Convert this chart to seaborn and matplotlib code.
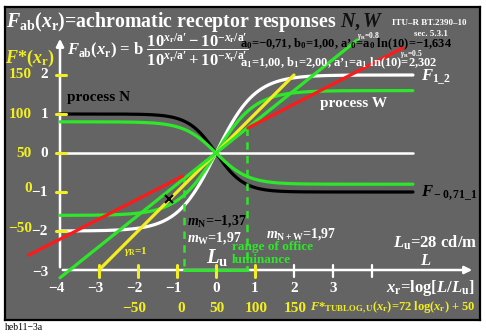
import numpy as np
import pandas as pd
import matplotlib
matplotlib.use("Agg")
import matplotlib.pyplot as plt
import seaborn as sns

# ---------------- data ----------------
a0, b0 = -0.71, 1.00          # process N
a1, b1 = 1.00, 2.00           # process W
aN_g, bN_g = -0.82, 0.80      # green (reduced) N curve
aW_g, bW_g = 1.00, 1.60       # green (reduced) W curve
curve_x_range = [-4.0, 5.05]

gamma_yellow = 1.0
yellow_x = [-3.0, 2.0]
gamma_green = 0.8
green_x = [-4.0, 3.62]
red_low_x = [-4.80, -0.85]
red_low_y = [-2.62, -0.59]
red_up_x = [0.82, 4.80]
red_up_y = [0.64, 2.70]
office_x = [-0.82, 0.80]
office_top = [-0.59, 0.64]
marker_x = [-1.2]
marker_y = [-1.18]

x_ticks = [-4, -3, -2, -1, 0, 1, 2, 3, 4]
x_tick_labels = ["−4", "−3", "−2", "−1", "0", "1", "2", "3", ""]
yellow_xticks = [-3, -2, -1, 0, 1]
white_xticks = [2, 3, 4]
y_ticks = [2, 1, 0, -1, -2, -3]
y_tick_labels = ["2", "1", "0", "−1", "−2", "−3"]
yellow_yticks = [2, 1, 0, -1, -2]
yellow_y_labels = ["150", "100", "50", "0", "−50"]
yellow_x_labels = ["−50", "0", "50", "100", "150"]

# ---------------- style ----------------
sns.set_style("white", {"axes.facecolor": "#646464"})
plt.rcParams["font.family"] = ["Liberation Serif", "DejaVu Serif"]
plt.rcParams["font.weight"] = "bold"
plt.rcParams["mathtext.fontset"] = "custom"
plt.rcParams["mathtext.rm"] = "Liberation Serif:bold"
plt.rcParams["mathtext.bf"] = "Liberation Serif:bold"
plt.rcParams["mathtext.it"] = "Liberation Serif:italic:bold"
plt.rcParams["mathtext.default"] = "it"

GREEN = "#2ee62a"
YELLOW = "#f2ee22"
RED = "#ff1a1a"
WHITE = "#ffffff"
BLACK = "#000000"

fig = plt.figure(figsize=(4.86, 3.36), dpi=100)
fig.patch.set_facecolor("white")
ax = fig.add_axes([5 / 486, 16 / 336, 475 / 486, 313 / 336])

def X(px):
    return (px - 216) / 39.0

def Y(py):
    return (153 - py) / 39.0

ax.set_xlim(X(5), X(480))
ax.set_ylim(Y(320), Y(7))
ax.set_xticks([]); ax.set_yticks([])
for s in ax.spines.values():
    s.set_color(BLACK); s.set_linewidth(1.6)

def fab(x, a, b):
    ap = a * np.log(10)
    p = 10 ** (x / ap); m = 10 ** (-x / ap)
    return b * (p - m) / (p + m)

xs = np.linspace(curve_x_range[0], curve_x_range[1], 400)
LW = 2.3

# axes lines
ax.plot([X(60), X(413)], [0, 0], color=WHITE, lw=1.8, zorder=2)
ax.annotate("", xy=(X(60), Y(36)), xytext=(X(60), -3.0),
            arrowprops=dict(arrowstyle="-|>", color=WHITE, lw=1.8, mutation_scale=11), zorder=3)
ax.annotate("", xy=(X(475), -3.0), xytext=(-4.0, -3.0),
            arrowprops=dict(arrowstyle="-|>", color=WHITE, lw=1.8, mutation_scale=11), zorder=3)

# curves
df = pd.DataFrame({"x": xs,
                   "N": fab(xs, a0, b0), "W": fab(xs, a1, b1),
                   "Ng": fab(xs, aN_g, bN_g), "Wg": fab(xs, aW_g, bW_g)})
sns.lineplot(data=df, x="x", y="W", color=WHITE, lw=LW, ax=ax, zorder=4)
sns.lineplot(data=df, x="x", y="N", color=BLACK, lw=LW, ax=ax, zorder=4)
sns.lineplot(data=df, x="x", y="Ng", color=GREEN, lw=LW, ax=ax, zorder=5)
sns.lineplot(data=df, x="x", y="Wg", color=GREEN, lw=LW, ax=ax, zorder=5)

# straight lines
yx = np.array(yellow_x)
sns.lineplot(x=yx, y=gamma_yellow * yx, color=YELLOW, lw=LW, ax=ax, zorder=6)
gx = np.array(green_x)
sns.lineplot(x=gx, y=gamma_green * gx, color=GREEN, lw=LW, ax=ax, zorder=6)
sns.lineplot(x=red_low_x, y=red_low_y, color=RED, lw=LW, ax=ax, zorder=6)
sns.lineplot(x=red_up_x, y=red_up_y, color=RED, lw=LW, ax=ax, zorder=6)

# office luminance range
for xo, yt in zip(office_x, office_top):
    ax.plot([xo, xo], [yt, -3.0], color=GREEN, lw=1.8, ls=(0, (3, 2.5)), zorder=5)
ax.plot(office_x, [-3.0, -3.0], color=GREEN, lw=2.2, zorder=7)
ax.plot(marker_x, marker_y, marker="x", color=BLACK, ms=6, mew=1.5, zorder=7)

# ticks
for t in yellow_yticks:
    ax.plot([X(56), X(66)], [t, t], color=YELLOW, lw=2.2, zorder=7)
for t in yellow_xticks:
    ax.plot([t, t], [Y(265), Y(277)], color=YELLOW, lw=2.2, zorder=7)
for t in white_xticks:
    ax.plot([t, t], [Y(265), Y(277)], color=WHITE, lw=1.6, zorder=7)

FS = 11
for t, lab in zip(y_ticks, y_tick_labels):
    yy = t if t > -3 else Y(272)
    ax.text(X(48), yy, lab, color=WHITE, fontsize=FS, ha="right", va="center")
for t, lab in zip(yellow_yticks, yellow_y_labels):
    yy = {-1: Y(188), -2: Y(228)}.get(t, t)
    ax.text(X(32), yy, lab, color=YELLOW, fontsize=FS, ha="right", va="center")
for t, lab in zip(x_ticks, x_tick_labels):
    if lab.startswith("−"):
        ax.text(t + 4.5 / 39, Y(288), lab, color=WHITE, fontsize=FS, ha="right", va="center")
    else:
        ax.text(t, Y(288), lab, color=WHITE, fontsize=FS, ha="center", va="center")
for px, lab in zip([134, 181, 217, 256, 295], yellow_x_labels):
    ax.text(X(px), Y(308), lab, color=YELLOW, fontsize=FS, ha="center", va="center")

# texts
ax.text(X(6), Y(27), r"$F_{\rm ab}(x_{\rm r})$=achromatic receptor responses",
        color=WHITE, fontsize=14.3, ha="left", va="baseline")
ax.text(X(340), Y(27), r"$N, W$", color="#111111", fontsize=14.3, ha="left", va="baseline")
ax.text(X(392), Y(25), "ITU–R BT.2390–10", color=WHITE, fontsize=6.5, ha="left", va="baseline")
ax.text(X(414), Y(36), "sec. 5.3.1", color=WHITE, fontsize=6.5, ha="left", va="baseline")

ax.text(X(67), Y(55),
        r"$F_{\rm ab}(x_{\rm r})$ = b $\dfrac{10^{x_{\rm r}/\mathrm{a}\prime} - 10^{-x_{\rm r}/\mathrm{a}\prime}}{10^{x_{\rm r}/\mathrm{a}\prime} + 10^{-x_{\rm r}/\mathrm{a}\prime}}$",
        color=WHITE, fontsize=12, ha="left", va="baseline", zorder=8)
ax.text(X(240), Y(47), r"a$_0$=−0,71, b$_0$=1,00, a’$_0$=a$_0$ ln(10)=−1,634",
        color=BLACK, fontsize=9, ha="left", va="baseline", zorder=9)
ax.text(X(240), Y(66), r"a$_1$=1,00, b$_1$=2,00, a’$_1$=a$_1$ ln(10)=2,302",
        color=WHITE, fontsize=9, ha="left", va="baseline", zorder=9)
ax.text(X(357), Y(38), r"$\gamma_{\rm R}$=0.8", color=WHITE, fontsize=5.5, ha="left", va="baseline", zorder=9)
ax.text(X(400), Y(56), r"$\gamma_{\rm R}$=0.5", color=WHITE, fontsize=5.5, ha="left", va="baseline", zorder=9)

ax.text(X(5), Y(58), r"$F$*($x_{\rm r}$)", color=YELLOW, fontsize=13, ha="left", va="center", zorder=9)

ax.text(X(67), Y(97), "process N", color=BLACK, fontsize=11, ha="left", va="center", zorder=9)
ax.text(X(320), Y(103), "process W", color=WHITE, fontsize=11, ha="left", va="center", zorder=9)
ax.text(X(421), Y(77), r"$F_{\rm 1\_2}$", color=WHITE, fontsize=12, ha="left", va="center", zorder=9)
ax.text(X(421), Y(193), r"$F_{\rm -0,71\_1}$", color=BLACK, fontsize=12, ha="left", va="center", zorder=9)

ax.text(X(187), Y(221), r"$m_{\rm N}$=−1,37", color=BLACK, fontsize=10, ha="left", va="center", zorder=9)
ax.text(X(187), Y(238), r"$m_{\rm W}$=1,97", color=WHITE, fontsize=10, ha="left", va="center", zorder=9)
ax.text(X(266), Y(234), r"$m_{\rm N+W}$=1,97", color=WHITE, fontsize=10, ha="left", va="center", zorder=9)
ax.text(X(232), Y(247), "range of office", color=GREEN, fontsize=9.5, ha="left", va="center", zorder=9)
ax.text(X(232), Y(260), "luminance", color=GREEN, fontsize=9.5, ha="left", va="center", zorder=9)
ax.text(X(217), Y(257), r"$L_{\rm u}$", color=WHITE, fontsize=15, ha="center", va="center", zorder=9)
ax.text(X(136), Y(252), r"$\gamma_{\rm R}$=1", color=YELLOW, fontsize=8, ha="center", va="center", zorder=9)

ax.text(X(477), Y(243), r"$L_{\rm u}$=28 cd/m", color=WHITE, fontsize=12, ha="right", va="center", zorder=9)
ax.text(X(426), Y(261), r"$L$", color=WHITE, fontsize=12, ha="center", va="center", zorder=9)
ax.text(X(474), Y(288), r"$x_{\rm r}$=log[$L$/$L_{\rm u}$]", color=WHITE, fontsize=12, ha="right", va="center", zorder=9)
ax.text(X(310), Y(308), r"$F$*$_{\rm TUBLOG,U}$($x_{\rm r}$)=72 log($x_{\rm r}$) + 50",
        color=YELLOW, fontsize=9, ha="left", va="center", zorder=9)

fig.text(5 / 486, 1 - 328 / 336, "heb11−3a", color=BLACK, fontsize=7, fontweight="normal",
         ha="left", va="center")

ax.set_xlabel(""); ax.set_ylabel("")
fig.savefig("out.png", dpi=100)
